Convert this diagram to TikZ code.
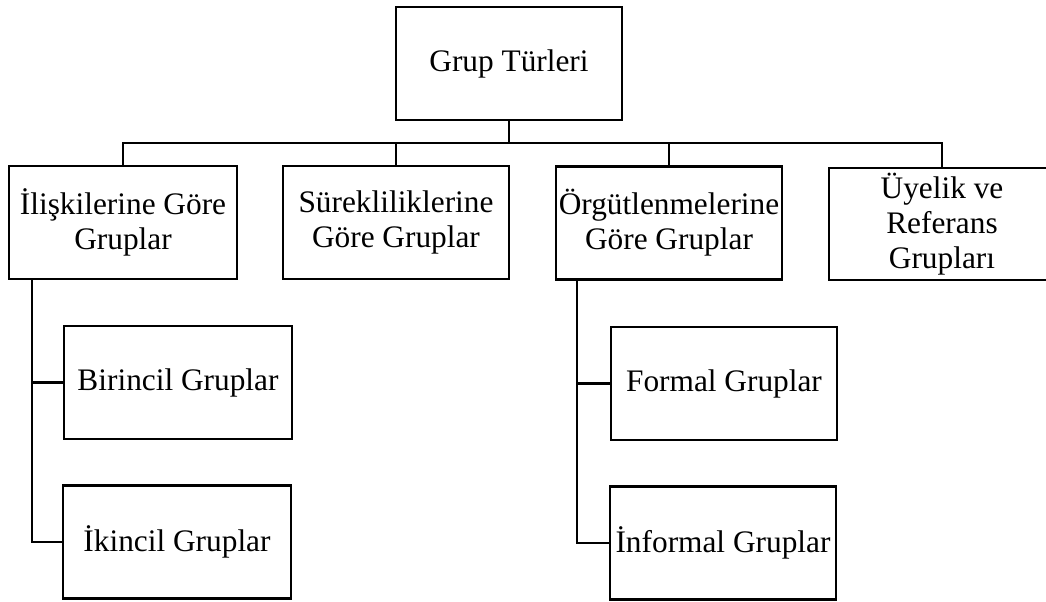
\documentclass[tikz,border=0pt]{standalone}
\usepackage{fontspec}
\setmainfont{Liberation Serif}
\begin{document}
\begin{tikzpicture}[x=0.75pt,y=-0.75pt,
  box/.style={draw=black, line width=1.6pt, rectangle, inner sep=0pt,
    minimum width=169.5pt, minimum height=84.75pt, align=center,
    font=\fontsize{23.5}{26.25}\selectfont},
  link/.style={draw=black, line width=1.6pt}]
\useasboundingbox (0,0) rectangle (1046,601);
\clip (0,0) rectangle (1046,601);

% root
\node[box] (root) at (509,63.5) {Grup Türleri};

% first level
\node[box, minimum width=171pt] (b1) at (123,222.5) {İlişkilerine Göre\\Gruplar};
\node[box] (b2) at (396,222.5) {Sürekliliklerine\\Göre Gruplar};
\node[box] (b3) at (669,223) {Örgütlenmelerine\\Göre Gruplar};
\node[box, minimum height=84pt] (b4) at (942,224) {Üyelik ve\\Referans\\Grupları};

% second level
\node[box, minimum width=171pt] (c1) at (178,382.5) {Birincil Gruplar};
\node[box, minimum width=171pt] (c2) at (177,542) {İkincil Gruplar};
\node[box] (d1) at (724,383.5) {Formal Gruplar};
\node[box] (d2) at (723,543) {İnformal Gruplar};

% root to first level
\coordinate (bus) at (509,143);
\draw[link] (root.south) -- (bus);
\foreach \n in {b1,b2,b3,b4} \draw[link] (bus) -| (\n.north);

% side spines
\path (b1.south) ++(-91,0) coordinate (s1);
\draw[link] (s1) |- (c1.west);
\draw[link] (s1) |- (c2.west);
\path (b3.south) ++(-92,0) coordinate (s3);
\draw[link] (s3) |- (d1.west);
\draw[link] (s3) |- (d2.west);
\end{tikzpicture}
\end{document}
